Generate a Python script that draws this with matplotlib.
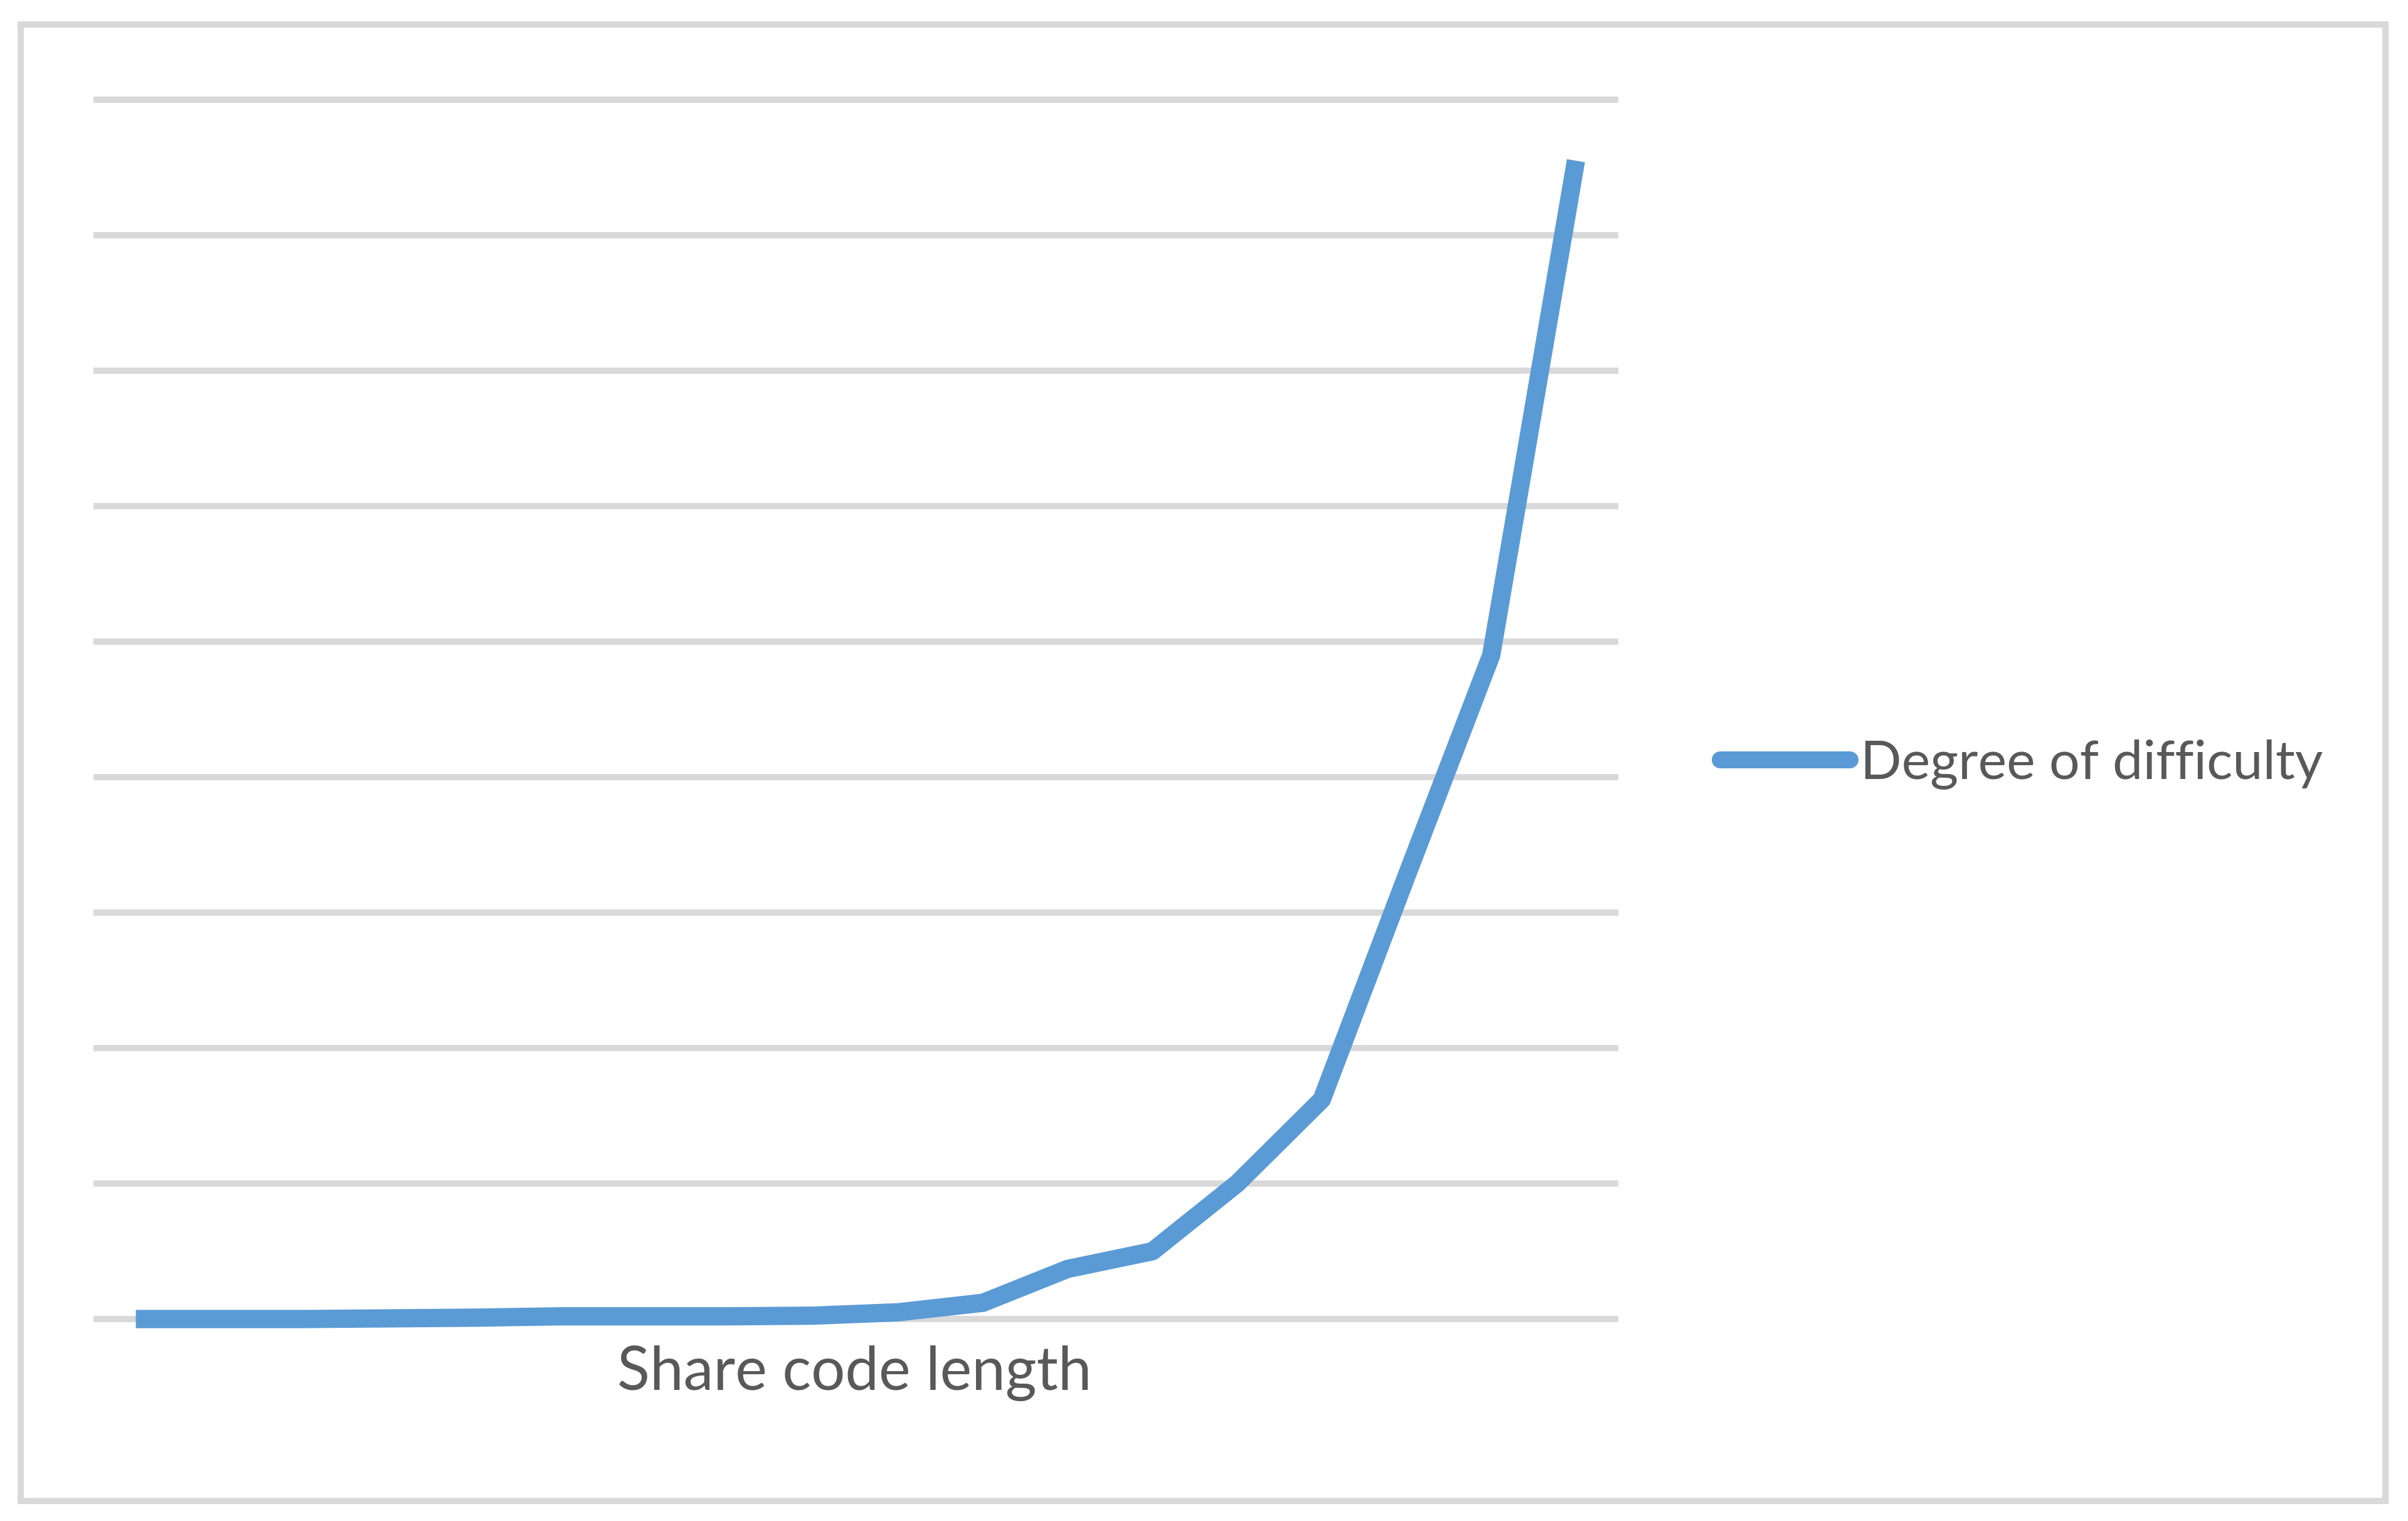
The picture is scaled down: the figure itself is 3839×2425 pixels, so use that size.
import matplotlib
matplotlib.use("Agg")
import matplotlib.pyplot as plt
from matplotlib.patches import Rectangle
from matplotlib.lines import Line2D

# Data (in gridline units; no axis labels in original)
categories = list(range(1, 19))
difficulty = [0.0, 0.0, 0.0, 0.005, 0.01, 0.02, 0.02, 0.02, 0.025, 0.05,
              0.12, 0.37, 0.50, 1.00, 1.62, 3.27, 4.90, 8.55]
series_name = "Degree of difficulty"
x_label = "Share code length"

W, H, DPI = 3839, 2425, 300
fig = plt.figure(figsize=(W / DPI, H / DPI), dpi=DPI)
fig.patch.set_facecolor("white")

font = ["Lato", "DejaVu Sans"]
text_color = "#595959"
grid_color = "#d9d9d9"
line_color = "#5B9BD5"

# Axes placement: gridlines span x 149..2580 px, y 159..2103 px
x0, x1 = 149 / W, 2580 / W
y_zero = 1 - 2103 / H
y_top = 1 - 159 / H
unit = (y_top - y_zero) / 9
pad = 0.1
ax = fig.add_axes([x0, y_zero - pad * unit, x1 - x0, (9 + 2 * pad) * unit])
ax.set_xlim(-0.5, len(categories) - 0.5)
ax.set_ylim(-pad, 9 + pad)

xs = list(range(len(categories)))
ax.plot(xs, difficulty, color=line_color, lw=7.0, solid_capstyle="butt",
        solid_joinstyle="round", label=series_name, zorder=3)

for g in range(0, 10):
    ax.axhline(g, color=grid_color, lw=2.4, zorder=1)

ax.set_xticks([])
ax.set_yticks([])
for s in ax.spines.values():
    s.set_visible(False)
ax.patch.set_alpha(0)

fig.text(1362 / W, 1 - 2190 / H, x_label, ha="center", va="center",
         fontsize=23, color=text_color, family=font)

# Legend
handle = Line2D([0], [0], color=line_color, lw=6.5, solid_capstyle="round")
leg = fig.legend([handle], [series_name], loc="center left",
                 bbox_to_anchor=(2742 / W, 1 - 1218 / H), frameon=False,
                 borderpad=0, borderaxespad=0, handlelength=2.4,
                 handletextpad=0.2, prop={"family": font, "size": 20.7})
for t in leg.get_texts():
    t.set_color(text_color)

# Outer border
bw = 10
fig.patches.append(Rectangle((33 / W, 1 - 2393 / H), (3803 - 33) / W, (2393 - 39) / H,
                             transform=fig.transFigure, fill=False,
                             edgecolor=grid_color, lw=bw * 72 / DPI))

fig.savefig("out.png", dpi=DPI)
